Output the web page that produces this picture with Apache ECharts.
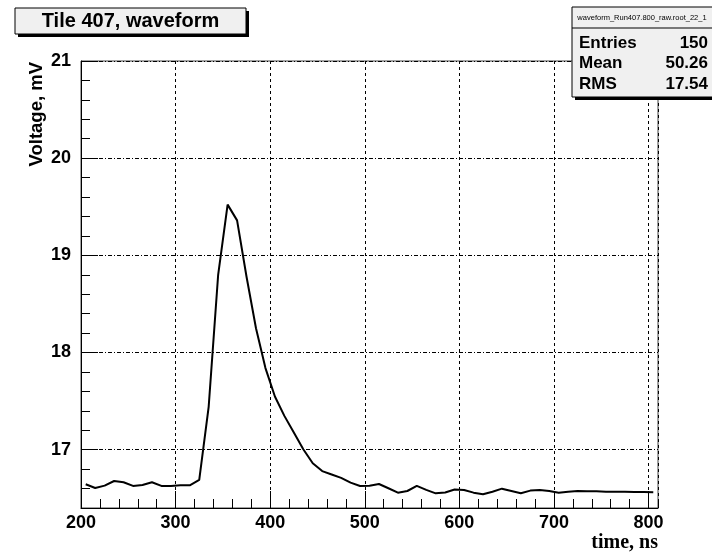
<!DOCTYPE html>
<html><head><meta charset="utf-8">
<script src="https://cdn.jsdelivr.net/npm/echarts@6/dist/echarts.min.js"></script>
<style>html,body{margin:0;padding:0;background:#fff}#c{width:712px;height:554px}</style>
</head><body><div id="c"></div>
<script>
// Waveform: bin centres (ns) and voltage (mV)
const timeNs = [205,215,225,235,245,255,265,275,285,295,
  305,315,325,335,345,355,365,375,385,395,
  405,415,425,435,445,455,465,475,485,495,
  505,515,525,535,545,555,565,575,585,595,
  605,615,625,635,645,655,665,675,685,695,
  705,715,725,735,745,755,765,775,785,795,805];
const voltage = [16.644,16.606,16.630,16.678,16.665,16.627,16.637,16.665,16.627,16.627,
  16.634,16.634,16.689,17.444,18.80,19.522,19.36,18.78,18.25,17.84,
  17.547,17.348,17.176,17.005,16.86,16.78,16.745,16.71,16.661,16.627,
  16.630,16.647,16.603,16.558,16.575,16.627,16.586,16.551,16.560,16.590,
  16.586,16.558,16.541,16.568,16.599,16.575,16.551,16.579,16.586,16.575,
  16.558,16.568,16.575,16.572,16.572,16.568,16.568,16.568,16.565,16.565,16.562];
const xRange = [200, 810];
const yRange = [16.4, 21];
const chartTitle = 'Tile 407, waveform';
const statsHeader = 'waveform_Run407.800_raw.root_22_1';
const statsNames = ['Entries', 'Mean', 'RMS'];
const statsValues = ['150', '50.26', '17.54'];
const xTitle = 'time, ns';
const yTitle = 'Voltage, mV';

const labelFont = {fontFamily: '"Liberation Sans", Arial, sans-serif', fontWeight: 'bold', fontSize: 18, color: '#000'};
const chart = echarts.init(document.getElementById('c'), null, {renderer: 'canvas'});

const statsGraphics = [];
statsNames.forEach((n, i) => {
  const y = 43 + i * 20.5;
  statsGraphics.push({type: 'text', x: 579, y: y, z: 12,
    style: {text: n, fill: '#000', font: 'bold 17px "Liberation Sans", Arial, sans-serif', textAlign: 'left', textVerticalAlign: 'middle'}});
  statsGraphics.push({type: 'text', x: 708, y: y, z: 12,
    style: {text: statsValues[i], fill: '#000', font: 'bold 17px "Liberation Sans", Arial, sans-serif', textAlign: 'right', textVerticalAlign: 'middle'}});
});

chart.setOption({
  animation: false,
  backgroundColor: '#fff',
  grid: {left: 81, right: 54, top: 61, bottom: 46, show: true, borderColor: '#444', borderWidth: 1, backgroundColor: 'transparent'},
  xAxis: [
    {type: 'value', min: xRange[0], max: xRange[1], interval: 100, position: 'bottom',
      axisLine: {show: true, lineStyle: {color: '#000', width: 1}},
      axisTick: {show: true, inside: true, length: 17, lineStyle: {color: '#000', width: 1}},
      axisLabel: Object.assign({margin: 6, showMaxLabel: false, formatter: v => v > 800 ? '' : String(v)}, labelFont),
      splitLine: {show: true, lineStyle: {color: '#000', width: 1, type: [3, 3]}}},
    {type: 'value', min: xRange[0], max: xRange[1], interval: 20, position: 'bottom',
      axisLine: {show: false}, axisLabel: {show: false}, splitLine: {show: false},
      axisTick: {show: true, inside: true, length: 9, lineStyle: {color: '#000', width: 1}}}
  ],
  yAxis: [
    {type: 'value', min: yRange[0], max: yRange[1], minInterval: 1, maxInterval: 1, position: 'left',
      axisLine: {show: true, lineStyle: {color: '#000', width: 1}},
      axisTick: {show: true, inside: true, length: 17, lineStyle: {color: '#000', width: 1}},
      axisLabel: Object.assign({margin: 10, showMinLabel: false, formatter: v => v < 16.5 ? '' : String(v)}, labelFont),
      splitLine: {show: true, lineStyle: {color: '#000', width: 1, type: [4, 2, 1, 2]}}},
    {type: 'value', min: yRange[0], max: yRange[1], interval: 0.2, position: 'left',
      axisLine: {show: false}, axisLabel: {show: false}, splitLine: {show: false},
      axisTick: {show: true, inside: true, length: 9, lineStyle: {color: '#000', width: 1}}}
  ],
  series: [{
    type: 'line', xAxisIndex: 0, yAxisIndex: 0, showSymbol: false, symbol: 'none',
    lineStyle: {color: '#000', width: 2}, z: 5,
    data: timeNs.map((t, i) => [t, voltage[i]])
  }],
  graphic: [
    {type: 'rect', shape: {x: 18, y: 11, width: 231, height: 26}, style: {fill: '#000'}, z: 10},
    {type: 'rect', shape: {x: 15, y: 8, width: 231, height: 26}, style: {fill: '#f0f0f0', stroke: '#000', lineWidth: 1}, z: 11},
    {type: 'text', x: 130.5, y: 21.5, z: 12, style: {text: chartTitle, fill: '#000', font: 'bold 20px "Liberation Sans", Arial, sans-serif', textAlign: 'center', textVerticalAlign: 'middle'}},
    {type: 'rect', shape: {x: 575, y: 10, width: 150, height: 90}, style: {fill: '#000'}, z: 10},
    {type: 'rect', shape: {x: 572, y: 7, width: 150, height: 90}, style: {fill: '#f0f0f0', stroke: '#000', lineWidth: 1}, z: 11},
    {type: 'line', shape: {x1: 572, y1: 28, x2: 712, y2: 28}, style: {stroke: '#000', lineWidth: 1}, z: 12},
    {type: 'text', x: 642, y: 18, z: 12, style: {text: statsHeader, fill: '#000', font: '7.5px "Liberation Sans", Arial, sans-serif', textAlign: 'center', textVerticalAlign: 'middle'}},
    ...statsGraphics,
    {type: 'text', x: 37, y: 62, rotation: Math.PI / 2, z: 12, style: {text: yTitle, fill: '#000', font: 'bold 18.5px "Liberation Sans", Arial, sans-serif', textAlign: 'right', textVerticalAlign: 'middle'}},
    {type: 'text', x: 658, y: 543, z: 12, style: {text: xTitle, fill: '#000', font: 'bold 20px "Liberation Serif", "Times New Roman", serif', textAlign: 'right', textVerticalAlign: 'middle'}}
  ]
});
</script></body></html>
